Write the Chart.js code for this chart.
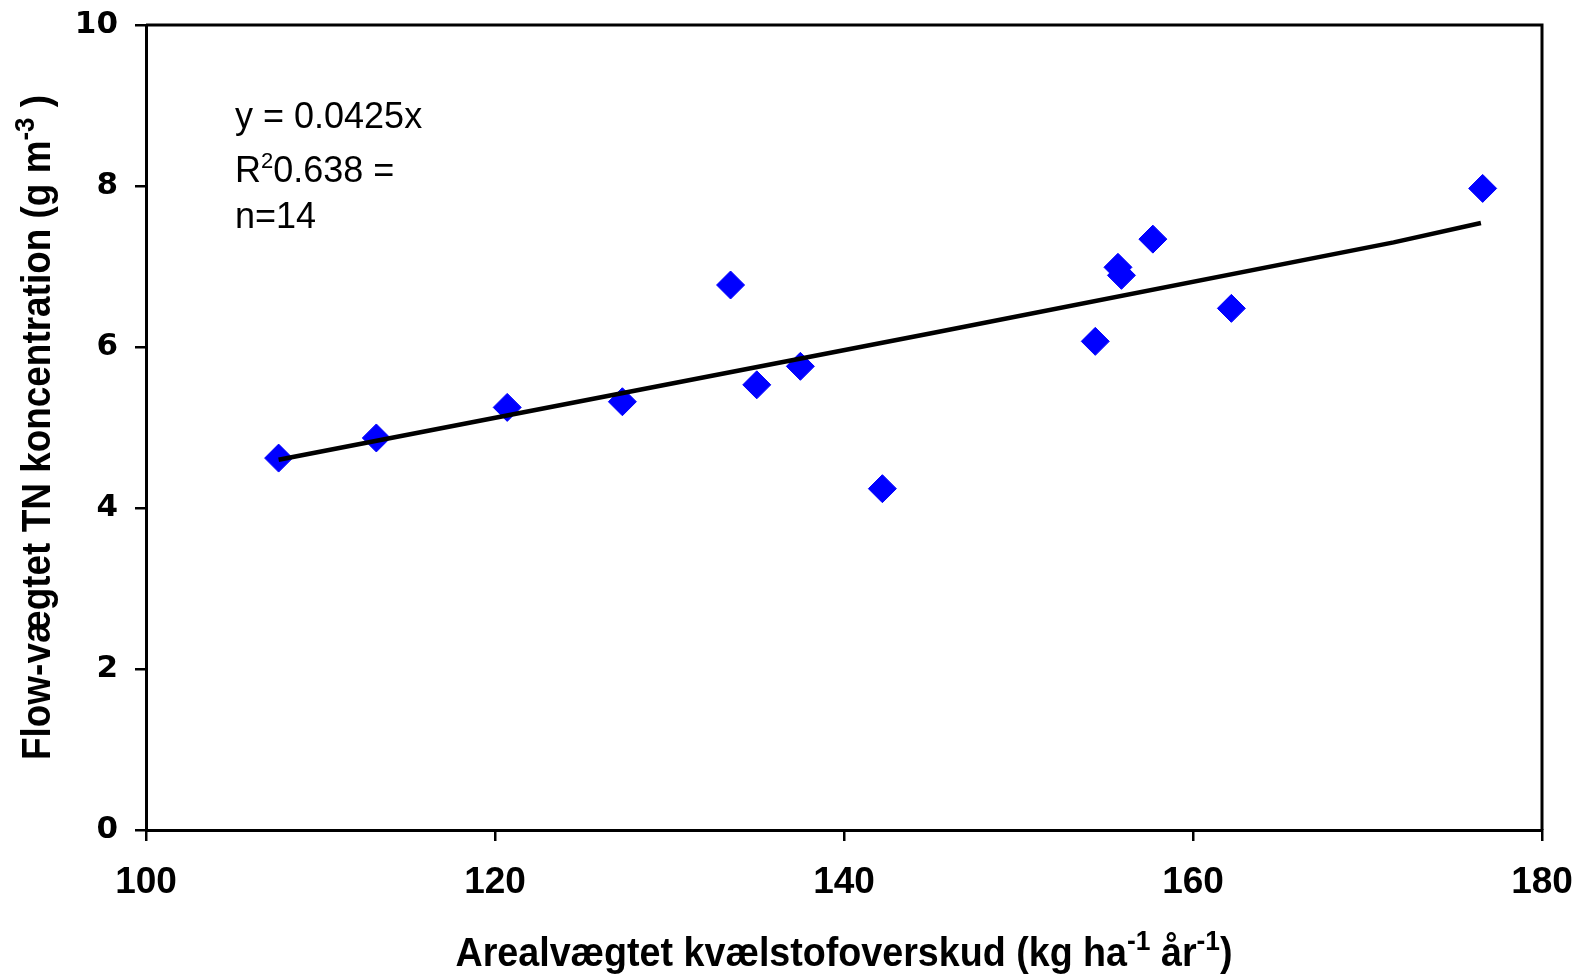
<!DOCTYPE html>
<html>
<head>
<meta charset="utf-8">
<script src="https://cdn.jsdelivr.net/npm/chart.js@4"></script>
<style>
  body { margin: 0; background: #fff; }
</style>
</head>
<body>
<canvas id="chart" width="1576" height="974"></canvas>
<script>
// data
const surplusX = [107.6, 113.2, 120.7, 127.3, 133.5, 135.0, 137.5, 142.2, 154.4, 155.7, 155.9, 157.7, 162.2, 176.6];
const concY = [4.62, 4.87, 5.25, 5.32, 6.77, 5.53, 5.76, 4.24, 6.07, 6.99, 6.89, 7.34, 6.48, 7.97];
const trendX = [107.6, 145, 171.5, 176.5];
const trendY = [4.60, 6.17, 7.30, 7.54];
const xTicks = [100, 120, 140, 160, 180];
const yTicks = [0, 2, 4, 6, 8, 10];
const annotation = ["y = 0.0425x", ["R", "2", "0.638 ="], "n=14"];

const FONT = "'Liberation Sans', Arial, sans-serif";

// draw text pieces, odd pieces as superscript, squeezed horizontally
function richText(ctx, parts, size, supSize, bold, sx) {
    const w = bold ? "bold " : "";
    let total = 0;
    parts.forEach((p, i) => {
        ctx.font = w + (i % 2 ? supSize : size) + "px " + FONT;
        total += ctx.measureText(p).width;
    });
    return {
        width: total * sx,
        draw(x, y) {
            ctx.save();
            ctx.translate(x, y);
            ctx.scale(sx, 1);
            let cx = 0;
            parts.forEach((p, i) => {
                ctx.font = w + (i % 2 ? supSize : size) + "px " + FONT;
                ctx.fillText(p, cx, i % 2 ? -size * 0.4 : 0);
                cx += ctx.measureText(p).width;
            });
            ctx.restore();
        }
    };
}

const decorations = {
    id: "decorations",
    afterDraw(chart) {
        const ctx = chart.ctx;
        const a = chart.chartArea;
        ctx.save();
        ctx.fillStyle = "#000";
        ctx.textBaseline = "alphabetic";
        ctx.textAlign = "left";

        // top and right frame
        ctx.strokeStyle = "#000";
        ctx.lineWidth = 3;
        ctx.beginPath();
        ctx.moveTo(a.left, a.top);
        ctx.lineTo(a.right, a.top);
        ctx.lineTo(a.right, a.bottom);
        ctx.stroke();

        // equation block
        const baselines = [128, 182, 228];
        annotation.forEach((line, i) => {
            const parts = Array.isArray(line) ? line : [line];
            richText(ctx, parts, 36, 22, false, 1).draw(235, baselines[i]);
        });

        // x axis title
        const xParts = ["Arealvægtet kvælstofoverskud (kg ha", "-1", " år", "-1", ")"];
        const xsq = 777 / richText(ctx, xParts, 40, 28, true, 1).width;
        const xt = richText(ctx, xParts, 40, 28, true, xsq);
        xt.draw((a.left + a.right) / 2 - xt.width / 2, 966);

        // y axis title
        const yParts = ["Flow-vægtet TN koncentration (g m", "-3", " )"];
        const ysq = 665 / richText(ctx, yParts, 40, 28, true, 1).width;
        const yt = richText(ctx, yParts, 40, 28, true, ysq);
        ctx.save();
        ctx.translate(50, (a.top + a.bottom) / 2);
        ctx.rotate(-Math.PI / 2);
        yt.draw(-yt.width / 2, 0);
        ctx.restore();

        ctx.restore();
    }
};

const xTickFont = { family: FONT, size: 37, weight: "bold" };
const yTickFont = { family: "'DejaVu Sans', sans-serif", size: 31, weight: "bold" };

new Chart(document.getElementById("chart"), {
    type: "scatter",
    data: {
        datasets: [
            {
                label: "Trend",
                data: trendX.map((x, i) => ({ x: x, y: trendY[i] })),
                showLine: true,
                borderColor: "#000",
                borderWidth: 4.5,
                pointRadius: 0,
                fill: false
            },
            {
                label: "Observations",
                data: surplusX.map((x, i) => ({ x: x, y: concY[i] })),
                pointStyle: "rectRot",
                pointRadius: 14,
                pointBackgroundColor: "#0000FF",
                pointBorderColor: "#0000FF",
                pointBorderWidth: 1
            }
        ]
    },
    options: {
        responsive: false,
        animation: false,
        devicePixelRatio: 1,
        layout: { padding: { left: 0, top: 25, right: 34, bottom: 0 } },
        plugins: {
            legend: { display: false },
            tooltip: { enabled: false }
        },
        scales: {
            x: {
                type: "linear",
                min: 100,
                max: 180,
                afterBuildTicks: s => { s.ticks = xTicks.map(v => ({ value: v })); },
                afterFit: s => { s.height = 144; s.paddingLeft = 0; s.paddingRight = 0; },
                ticks: { font: xTickFont, color: "#000", padding: 20, maxRotation: 0 },
                grid: { drawOnChartArea: false, drawTicks: true, tickLength: 11, color: "#000", lineWidth: 2.5 },
                border: { display: true, color: "#000", width: 3 }
            },
            y: {
                type: "linear",
                min: 0,
                max: 10,
                afterBuildTicks: s => { s.ticks = yTicks.map(v => ({ value: v })); },
                afterFit: s => { s.width = 146; s.paddingTop = 0; s.paddingBottom = 0; },
                ticks: { font: yTickFont, color: "#000", padding: 17 },
                grid: { drawOnChartArea: false, drawTicks: true, tickLength: 11, color: "#000", lineWidth: 2.5 },
                border: { display: true, color: "#000", width: 3 }
            }
        }
    },
    plugins: [decorations]
});
</script>
</body>
</html>
